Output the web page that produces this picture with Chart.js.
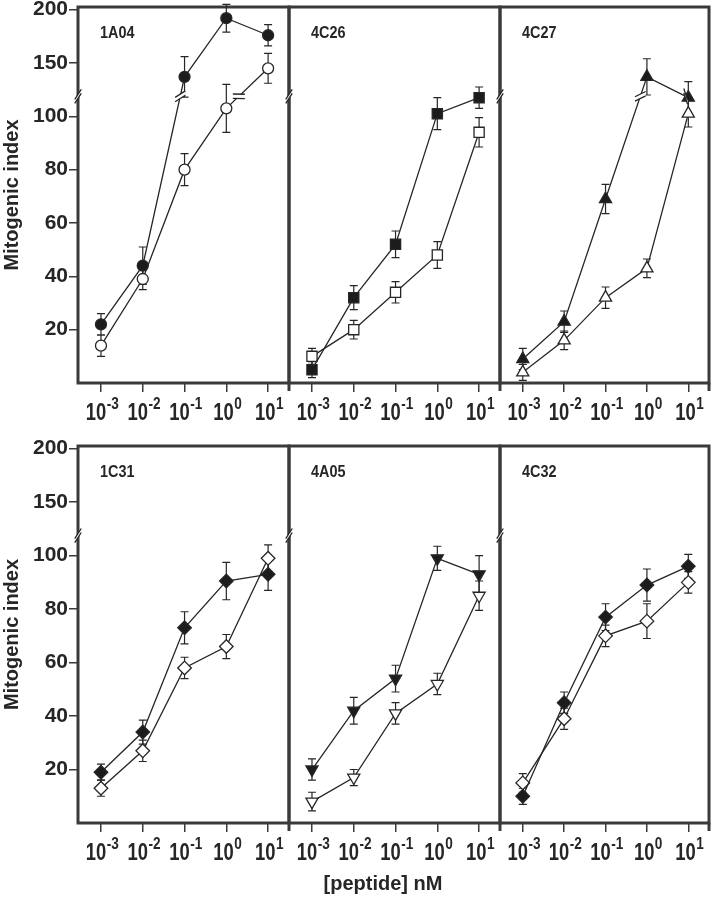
<!DOCTYPE html>
<html>
<head>
<meta charset="utf-8">
<title>Mitogenic index vs peptide</title>
<script src="https://cdn.jsdelivr.net/npm/chart.js@4.4.1/dist/chart.umd.min.js"></script>
<style>
  html, body { margin: 0; padding: 0; background: #fff; }
  #wrap { position: relative; width: 711px; height: 899px; overflow: hidden; }
  #wrap canvas { position: absolute; }
</style>
</head>
<body>
<div id="wrap"></div>
<script>
(function () {
  'use strict';

  /* ---------- Data ---------- */
  const doses = [0.001, 0.01, 0.1, 1, 10];
  const doseTickPowers = [-3, -2, -1, 0, 1];
  const yTickValues = [20, 40, 60, 80, 100, 150, 200];
  const panelNames = ['1A04', '4C26', '4C27', '1C31', '4A05', '4C32'];

  const c1A04Filled = [22, 44, 137, 192, 176];
  const c1A04FilledErr = [4, 7, 19, 13, 10];
  const c1A04Open = [14, 39, 80, 103, 145];
  const c1A04OpenErr = [4, 4, 6, 9, 14];

  const c4C26Filled = [5, 32, 52, 101, 107];
  const c4C26FilledErr = [3, 4.5, 5, 6, 4];
  const c4C26Open = [10, 20, 34, 48, 94];
  const c4C26OpenErr = [3, 3.5, 4, 5, 5.5];

  const c4C27Filled = [9, 23, 69, 137, 107];
  const c4C27FilledErr = [4, 4, 5.5, 17, 6];
  const c4C27Open = [4, 16, 32, 43, 101];
  const c4C27OpenErr = [3, 3.5, 4, 3.5, 5];

  const c1C31Filled = [19, 34, 73, 90.5, 93];
  const c1C31FilledErr = [3, 4.5, 6, 7, 6];
  const c1C31Open = [13, 27, 58, 66, 99];
  const c1C31OpenErr = [3, 4, 4, 4.5, 5];

  const c4A05Filled = [20, 42, 54, 99, 93];
  const c4A05FilledErr = [4, 5, 5, 4.5, 7];
  const c4A05Open = [8, 17, 41, 52, 85];
  const c4A05OpenErr = [3.5, 3, 4, 4, 5.5];

  const c4C32Filled = [10, 45, 77, 89, 96];
  const c4C32FilledErr = [3, 4, 5, 6, 4.5];
  const c4C32Open = [15, 39, 70, 75.5, 90];
  const c4C32OpenErr = [3.5, 4, 4, 6.5, 4];

  const panelSeries = [
    [c1A04Filled, c1A04FilledErr, c1A04Open, c1A04OpenErr],
    [c4C26Filled, c4C26FilledErr, c4C26Open, c4C26OpenErr],
    [c4C27Filled, c4C27FilledErr, c4C27Open, c4C27OpenErr],
    [c1C31Filled, c1C31FilledErr, c1C31Open, c1C31OpenErr],
    [c4A05Filled, c4A05FilledErr, c4A05Open, c4A05OpenErr],
    [c4C32Filled, c4C32FilledErr, c4C32Open, c4C32OpenErr],
  ];
  const markerStyles = ['circle', 'rect', 'triangle', 'rectRot', 'triangle', 'rectRot'];
  const markerRotation = [0, 0, 0, 0, 180, 0];
  const markerRadius = { circle: 5.5, rect: 7.2, triangle: 7, rectRot: 6.8 };

  /* ---------- Broken y axis (0–112 lower, 120–200 compressed) ---------- */
  const BREAK_LOW = 112;
  const BREAK_T = 107.5;
  const lowerT = (v) => v;
  const upperT = (v) => 120 + (v - 150) * 0.4;
  const fwd = (v) => (v <= BREAK_LOW ? lowerT(v) : upperT(v));

  /* ---------- Layout ---------- */
  const COLS = [[78, 289], [289, 500], [500, 709]];
  const ROWS = [[7, 383], [446, 823]];
  const Y_MAX = 141;

  const INK = '#262626';
  const FRAME = '#3a3a3a';
  const FONT = '"Liberation Sans", Arial, sans-serif';

  const wrap = document.getElementById('wrap');

  function drawBreak(ctx, x, y, ang, gap, len) {
    // two parallel strokes with a white cut between them
    const ux = Math.cos(ang), uy = -Math.sin(ang);
    const pts = [];
    [-gap, gap].forEach((o) => {
      pts.push([x - ux * len, y - uy * len + o, x + ux * len, y + uy * len + o]);
    });
    ctx.save();
    ctx.fillStyle = '#fff';
    ctx.beginPath();
    ctx.moveTo(pts[0][0], pts[0][1]);
    ctx.lineTo(pts[0][2], pts[0][3]);
    ctx.lineTo(pts[1][2], pts[1][3]);
    ctx.lineTo(pts[1][0], pts[1][1]);
    ctx.closePath();
    ctx.fill();
    ctx.strokeStyle = INK;
    ctx.lineWidth = 1.3;
    pts.forEach((p) => {
      ctx.beginPath();
      ctx.moveTo(p[0], p[1]);
      ctx.lineTo(p[2], p[3]);
      ctx.stroke();
    });
    ctx.restore();
  }

  // condensed text: normal font squeezed horizontally
  function narrowText(ctx, text, x, y, size, squeeze) {
    ctx.save();
    ctx.font = 'bold ' + size + 'px ' + FONT;
    ctx.translate(x, y);
    ctx.scale(squeeze, 1);
    ctx.fillText(text, 0, 0);
    ctx.restore();
  }
  function narrowWidth(ctx, text, size, squeeze) {
    ctx.save();
    ctx.font = 'bold ' + size + 'px ' + FONT;
    const w = ctx.measureText(text).width * squeeze;
    ctx.restore();
    return w;
  }

  function makePanel(i) {
    const col = i % 3, row = Math.floor(i / 3);
    const [L, R] = COLS[col];
    const [T, B] = ROWS[row];
    const ml = col === 0 ? L : 14, mt = 30, mr = 14, mb = 76;
    const W = ml + (R - L) + mr, H = mt + (B - T) + mb;
    const offX = L - ml, offY = T - mt;

    const canvas = document.createElement('canvas');
    canvas.width = W;
    canvas.height = H;
    canvas.style.left = offX + 'px';
    canvas.style.top = offY + 'px';
    canvas.style.width = W + 'px';
    canvas.style.height = H + 'px';
    wrap.appendChild(canvas);

    const [filled, filledErr, open, openErr] = panelSeries[i];
    const style = markerStyles[i];
    const r = markerRadius[style];

    const mkSet = (vals, errs, isFilled) => ({
      data: doses.map((d, k) => ({ x: d, y: fwd(vals[k]) })),
      rawVals: vals,
      errs: errs,
      borderColor: INK,
      borderWidth: 1.3,
      pointStyle: style,
      pointRotation: markerRotation[i],
      pointRadius: r,
      pointBorderWidth: 1.3,
      pointBorderColor: INK,
      pointBackgroundColor: isFilled ? '#1c1c1c' : '#ffffff',
      pointHoverRadius: r,
      tension: 0,
      clip: false,
    });

    const panelPlugin = {
      id: 'panel' + i,
      beforeDatasetsDraw(chart) {
        const { ctx, chartArea: a, scales } = chart;
        ctx.save();
        ctx.strokeStyle = FRAME;
        ctx.lineWidth = 3;
        ctx.strokeRect(a.left, a.top, a.right - a.left, a.bottom - a.top);
        if (col > 0) {
          ctx.beginPath();
          ctx.moveTo(a.left, a.bottom);
          ctx.lineTo(a.left, a.bottom + 8);
          ctx.stroke();
        }
        if (col === 2) {
          ctx.beginPath();
          ctx.moveTo(a.right, a.bottom);
          ctx.lineTo(a.right, a.bottom + 8);
          ctx.stroke();
        }
        ctx.restore();

        /* error bars */
        const ys = scales.y;
        ctx.save();
        ctx.strokeStyle = INK;
        ctx.lineWidth = 1.2;
        chart.data.datasets.forEach((ds, di) => {
          const meta = chart.getDatasetMeta(di);
          ds.rawVals.forEach((v, k) => {
            const e = ds.errs[k];
            const f = v <= BREAK_LOW ? lowerT : upperT;
            const x = meta.data[k].x;
            const yTop = ys.getPixelForValue(f(v + e));
            const yBot = ys.getPixelForValue(f(v - e));
            ctx.beginPath();
            ctx.moveTo(x, yTop);
            ctx.lineTo(x, yBot);
            ctx.moveTo(x - 4, yTop);
            ctx.lineTo(x + 4, yTop);
            ctx.moveTo(x - 4, yBot);
            ctx.lineTo(x + 4, yBot);
            ctx.stroke();
          });
        });
        ctx.restore();
      },
      afterDatasetsDraw(chart) {
        const { ctx, chartArea: a, scales } = chart;
        const xs = scales.x, ys = scales.y;
        const yb = ys.getPixelForValue(BREAK_T);

        /* break marks on data lines */
        chart.data.datasets.forEach((ds, di) => {
          const meta = chart.getDatasetMeta(di);
          for (let k = 0; k < ds.rawVals.length - 1; k++) {
            const lo = ds.rawVals[k] <= BREAK_LOW, hi = ds.rawVals[k + 1] <= BREAK_LOW;
            if (lo === hi) continue;
            const p0 = meta.data[k], p1 = meta.data[k + 1];
            const f = (yb - p0.y) / (p1.y - p0.y);
            const x = p0.x + (p1.x - p0.x) * f;
            const ang = Math.atan2(-(p1.y - p0.y), p1.x - p0.x);
            const up = ang > 0 ? ang : ang + Math.PI;
            drawBreak(ctx, x, yb, up - Math.PI / 4, 2.2, 6);
          }
        });

        /* break mark on the left axis */
        drawBreak(ctx, a.left, yb, 1.0, 2, 6);

        /* panel name */
        ctx.save();
        ctx.fillStyle = INK;
        ctx.textBaseline = 'middle';
        narrowText(ctx, panelNames[i], a.left + 22, a.top + 27, 16, 0.9);

        /* x tick labels, 10 with a raised exponent */
        ctx.textBaseline = 'alphabetic';
        ctx.textAlign = 'left';
        doseTickPowers.forEach((p) => {
          const x = xs.getPixelForValue(Math.pow(10, p));
          const base = '10', sup = String(p);
          const w1 = narrowWidth(ctx, base, 23, 0.8);
          const w2 = narrowWidth(ctx, sup, 16, 0.85);
          const x0 = x - (w1 + w2) / 2 + 1;
          narrowText(ctx, base, x0, a.bottom + 37, 23, 0.8);
          narrowText(ctx, sup, x0 + w1 + 0.5, a.bottom + 26, 16, 0.85);
        });

        /* axis titles */
        if (col === 0) {
          ctx.save();
          ctx.translate(12 - offX, (T + B) / 2 - offY);
          ctx.rotate(-Math.PI / 2);
          ctx.font = 'bold 20px ' + FONT;
          ctx.textAlign = 'center';
          ctx.textBaseline = 'middle';
          ctx.fillText('Mitogenic index', 0, 0);
          ctx.restore();
        }
        if (i === 4) {
          ctx.font = 'bold 20px ' + FONT;
          ctx.textAlign = 'center';
          ctx.textBaseline = 'middle';
          ctx.fillText('[peptide] nM', 383 - offX, 884 - offY);
        }
        ctx.restore();
      },
    };

    new Chart(canvas, {
      type: 'line',
      data: {
        datasets: [mkSet(filled, filledErr, true), mkSet(open, openErr, false)],
      },
      options: {
        responsive: false,
        animation: false,
        events: [],
        layout: { padding: { top: mt, right: mr, left: 0, bottom: 0 } },
        plugins: { legend: { display: false }, tooltip: { enabled: false } },
        scales: {
          x: {
            type: 'logarithmic',
            min: Math.pow(10, -3.55),
            max: Math.pow(10, 1.5),
            bounds: 'data',
            afterBuildTicks: (s) => { s.ticks = doses.map((v) => ({ value: v })); },
            afterFit: (s) => { s.height = mb; },
            ticks: { display: false },
            grid: { drawOnChartArea: false, drawTicks: true, tickLength: 9, color: FRAME, lineWidth: 1.5 },
            border: { display: false },
          },
          y: {
            type: 'linear',
            min: 0,
            max: Y_MAX,
            afterBuildTicks: (s) => { s.ticks = yTickValues.map((v) => ({ value: fwd(v) })); },
            afterFit: (s) => { s.width = ml; },
            ticks: {
              display: col === 0,
              padding: 1,
              color: INK,
              font: { family: FONT, size: 21, weight: 'bold' },
              callback: (val, idx) => String(yTickValues[idx]),
            },
            grid: { display: col === 0, drawOnChartArea: false, drawTicks: true, tickLength: 9, color: FRAME, lineWidth: 1.5 },
            border: { display: false },
          },
        },
      },
      plugins: [panelPlugin],
    });
  }

  /* ---------- Init ---------- */
  panelNames.forEach((_, i) => makePanel(i));
})();
</script>
</body>
</html>
